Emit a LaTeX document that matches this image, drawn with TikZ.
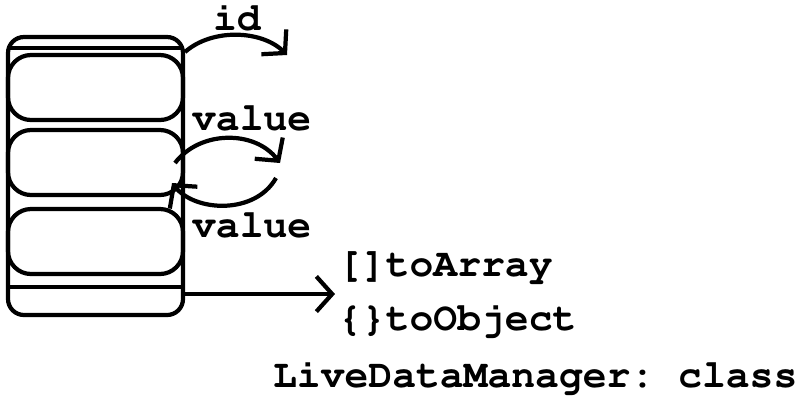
\documentclass[tikz,border=0pt]{standalone}
\usepackage[T1]{fontenc}
\usepackage{courier}
\usetikzlibrary{positioning}
\usetikzlibrary{arrows.meta}
\usetikzlibrary{math}

\begin{document}
\begin{tikzpicture}[x=0.1mm, y=-0.1mm, line width=1.2pt,
    cell/.style={draw, rounded corners=2.3mm, minimum width=17.5mm, minimum height=6.5mm, inner sep=0pt},
    arr/.style={-{Straight Barb[length=4.5pt,width=10pt]}},
    lbl/.style={anchor=base west, inner sep=0pt, font=\ttfamily\bfseries\frenchspacing\fontsize{11.3}{13}\selectfont}]
      \tikzmath{
        \l = 8;
        \r = 183;
        \t = 37;
        \b = 315;
      }
      \useasboundingbox (0,0) rectangle (800,400);

      \draw[rounded corners=1.6mm] (\l,\t) rectangle (\r,\b);
      \draw (\l,48) -- (\r,48);
      \draw (\l,287) -- (\r,287);

      \node[cell] (c1) at (95.5,87.5) {};
      \node[cell] (c2) at (95.5,162.5) {};
      \node[cell] (c3) at (95.5,241.5) {};

      \coordinate (idS) at (185,52);
      \coordinate (idE) at (287,55);
      \coordinate (vS) at (175,163);
      \coordinate (vE) at (280,163);
      \coordinate (wS) at (276,178);
      \coordinate (wE) at (172,183);
      \coordinate (outS) at (\r,294);
      \coordinate (outE) at (335,294);

      \draw[arr] (idS) .. controls (212,28) and (262,30) .. (idE);
      \draw[arr] (vS) .. controls (200,130) and (255,130) .. (vE);
      \draw[arr] (wS) .. controls (255,215) and (195,212) .. (wE);
      \draw[arr] (outS) -- (outE);

      \node[lbl] (id) at (211,30) {id};
      \node[lbl] (val1) at (190,130) {value};
      \node[lbl] (val2) at (190,237) {value};
      \node[lbl] (arr) at (336,276) {[]toArray};
      \node[lbl] (obj) at (336,330) {\{\}toObject};
      \node[lbl] (cls) at (271,387) {LiveDataManager: class};
    \end{tikzpicture}
\end{document}
